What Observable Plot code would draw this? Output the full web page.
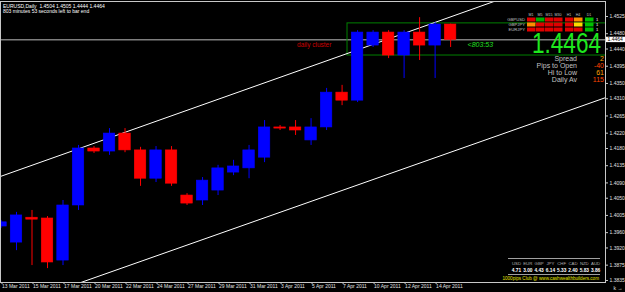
<!DOCTYPE html>
<html><head><meta charset="utf-8">
<script src="https://cdn.jsdelivr.net/npm/d3@7"></script>
<script src="https://cdn.jsdelivr.net/npm/@observablehq/plot@0.6"></script>
<style>
html,body{margin:0;padding:0;background:#000;}
#wrap{position:relative;width:625px;height:292px;overflow:hidden;background:#000;}
#wrap svg{display:block;}
</style></head><body><div id="wrap"></div>
<script>
// ---- data (EURUSD daily) ----
const candleDates = ["13 Mar 2011","14 Mar 2011","15 Mar 2011","16 Mar 2011","17 Mar 2011","18 Mar 2011",
  "20 Mar 2011","21 Mar 2011","22 Mar 2011","23 Mar 2011","24 Mar 2011","25 Mar 2011",
  "27 Mar 2011","28 Mar 2011","29 Mar 2011","30 Mar 2011","31 Mar 2011","1 Apr 2011",
  "3 Apr 2011","4 Apr 2011","5 Apr 2011","6 Apr 2011","7 Apr 2011","8 Apr 2011",
  "10 Apr 2011","11 Apr 2011","12 Apr 2011","13 Apr 2011","14 Apr 2011","15 Apr 2011"];
const opens  = [1.3976,1.3934,1.3999,1.3997,1.3887,1.4031,1.4180,1.4172,1.4219,1.4175,1.4101,1.4175,
  1.4057,1.4044,1.4070,1.4117,1.4128,1.4156,1.4235,1.4235,1.4201,1.4235,1.4326,1.4305,
  1.4449,1.4483,1.4423,1.4483,1.4449,1.4504];
const highs  = [1.3992,1.4013,1.4018,1.4002,1.4044,1.4188,1.4185,1.4232,1.4232,1.4183,1.4185,1.4185,
  1.4062,1.4104,1.4136,1.4149,1.4188,1.4253,1.4240,1.4253,1.4258,1.4337,1.4345,1.4488,
  1.4488,1.4488,1.4488,1.4522,1.4509,1.4505];
const lows   = [1.3971,1.3913,1.3874,1.3866,1.3874,1.4018,1.4167,1.4162,1.4169,1.4081,1.4091,1.4081,
  1.4031,1.4031,1.4057,1.4109,1.4101,1.4143,1.4227,1.4214,1.4188,1.4227,1.4292,1.4300,
  1.4444,1.4415,1.4363,1.4410,1.4363,1.4444];
const closes = [1.3987,1.4005,1.3994,1.3882,1.4031,1.4180,1.4172,1.4219,1.4175,1.4101,1.4175,1.4088,
  1.4036,1.4096,1.4128,1.4133,1.4175,1.4235,1.4232,1.4227,1.4235,1.4326,1.4305,1.4483,
  1.4483,1.4423,1.4483,1.4449,1.4504,1.4464];

const xTickLabels = ["13 Mar 2011","15 Mar 2011","17 Mar 2011","20 Mar 2011","22 Mar 2011","24 Mar 2011",
  "27 Mar 2011","29 Mar 2011","31 Mar 2011","3 Apr 2011","5 Apr 2011","7 Apr 2011","10 Apr 2011",
  "12 Apr 2011","14 Apr 2011"];
const yTickValues = [1.4525,1.4480,1.4440,1.4395,1.4350,1.4310,1.4265,1.4220,1.4180,1.4135,1.4090,
  1.4050,1.4005,1.3960,1.3920,1.3875,1.3835];

// trend channel anchor points (bar position, price)
const upperChannelK = [-1, 37];
const upperChannelP = [1.4093, 1.4639];
const lowerChannelK = [3, 39];
const lowerChannelP = [1.3799, 1.4313];

// daily cluster zone
const clusterStartK = [22.35];
const clusterTop = [1.4507];
const clusterBottom = [1.4423];

const bidPrice = 1.4464;
const titleText = "EURUSD,Daily  1.4504 1.4505 1.4444 1.4464";
const timerText = "803 minutes 53 seconds left to bar end";
const countdown = "<803:53";

const statLabels = ["Spread","Pips to Open","Hi to Low","Daily Av"];
const statValues = ["2","-40","61","115"];
const statColors = ["#ffa500","#ff4500","#ffa500","#ff4500"];

const tfLabels = ["M1","M5","M15","M30","H1","H4","D1"];
const pairLabels = ["GBPUSD","GBPJPY","EURJPY"];
const pairCells = [
  ["#e00000","#00b000","#e00000","#e00000","#e00000","#ff8c00","#00c000"],
  ["#ff8c00","#e00000","#e00000","#e00000","#e00000","#ffd700","#00c000"],
  ["#e00000","#e00000","#e00000","#e00000","#e00000","#e00000","#00c000"]
];
const pairSignal = ["1","1","1"];

const currencies = ["USD","EUR","GBP","JPY","CHF","CAD","NZD","AUD"];
const strengths = ["4.71","3.00","4.43","6.14","5.33","2.40","5.83","3.86"];
const footer = "1000pips Club @ www.cashwealthbuilders.com";

// ---- build tables ----
const candles = candleDates.map((d, k) => ({
  k, date: d, open: opens[k], high: highs[k], low: lows[k], close: closes[k],
  color: closes[k] >= opens[k] ? "#0000ff" : "#ff0000"
}));
const upperLine = upperChannelK.map((k, i) => ({k, p: upperChannelP[i]}));
const lowerLine = lowerChannelK.map((k, i) => ({k, p: lowerChannelP[i]}));
const cluster = clusterStartK.map((k, i) => ({k, top: clusterTop[i], bottom: clusterBottom[i]}));
const tickK = xTickLabels.map(d => candleDates.indexOf(d));
const last = candles[candles.length - 1];

const FONT = "Liberation Sans, Arial, sans-serif";

const chart = Plot.plot({
  width: 625, height: 292,
  marginLeft: 0, marginRight: 20, marginTop: 1, marginBottom: 10,
  style: {background: "#000", color: "#fff", fontFamily: FONT, fontSize: "5px", overflow: "visible"},
  x: {domain: [-0.032, 38.99], axis: null},
  y: {domain: [1.38297, 1.45642], axis: null},
  color: {type: "identity"},
  marks: [
    Plot.ruleY([bidPrice], {stroke: "#bdbdbd", strokeWidth: 1}),
    Plot.rect(cluster, {x1: "k", x2: 60, y1: "bottom", y2: "top", fill: "none", stroke: "#008000", strokeWidth: 1, clip: true}),
    Plot.line(upperLine, {x: "k", y: "p", stroke: "#ffffff", strokeWidth: 1, clip: true}),
    Plot.line(lowerLine, {x: "k", y: "p", stroke: "#ffffff", strokeWidth: 1, clip: true}),
    Plot.ruleX(candles, {x: "k", y1: "low", y2: "high", stroke: "color", strokeWidth: 1, clip: true}),
    Plot.rect(candles, {x1: d => d.k - 0.37, x2: d => d.k + 0.37, y1: "open", y2: "close", fill: "color", stroke: "color", strokeWidth: 0.6, clip: true}),
    Plot.text(["daily cluster"], {x: [20.2], y: [1.4452], text: d => d, fill: "#cc0000", fontSize: 6.5, clip: true}),
    Plot.text([last], {x: "k", y: () => 1.4450, dx: 17, text: () => countdown, textAnchor: "start", fill: "#22e022", fontSize: 7, fontStyle: "italic"}),
    Plot.frame({stroke: "#c8c8c8"}),
    Plot.axisY({anchor: "right", ticks: yTickValues, tickFormat: d => d.toFixed(4), tickSize: 2, tickPadding: 2, fontSize: 5, stroke: "#c8c8c8", fill: "#e0e0e0"}),
    Plot.axisX({ticks: tickK, tickFormat: k => candleDates[k], tickSize: 2, tickPadding: 0, textAnchor: "start", dx: 1, fontSize: 5, stroke: "#c8c8c8", fill: "#e0e0e0"})
  ]
});
document.getElementById("wrap").appendChild(chart);

// ---- overlays (text panels) ----
const svg = d3.select(chart);
const yScale = chart.scale("y");
const g = svg.append("g").attr("font-family", FONT).attr("text-anchor", "start");

function txt(x, y, s, size, fill, anchor, extra) {
  const t = g.append("text").attr("x", x).attr("y", y).attr("font-size", size).attr("fill", fill)
    .attr("text-anchor", anchor || "start").text(s);
  if (extra) extra(t);
  return t;
}

// title
txt(3, 7.6, titleText, 5, "#fff", "start", t => t.attr("xml:space", "preserve").style("white-space", "pre"));
txt(3, 12.8, timerText, 5, "#fff", "start");

// bid price box on the axis
const by = yScale.apply(bidPrice);
g.append("rect").attr("x", 606).attr("y", by - 2.6).attr("width", 19).attr("height", 5.4).attr("fill", "#fff");
txt(607.5, by + 1.8, bidPrice.toFixed(4), 5, "#000", "start");

// big price
txt(601, 53, bidPrice.toFixed(4), 29, "#1ee81e", "end", t => t.attr("textLength", 69).attr("lengthAdjust", "spacingAndGlyphs"));

// stats
statLabels.forEach((s, i) => {
  const y = 61 + i * 7;
  txt(577, y, s, 7, "#c0c0c0", "end");
  txt(604, y, statValues[i], 7, statColors[i], "end");
});

// timeframe table
const colX = [527, 536, 545, 554, 565, 574, 585];
tfLabels.forEach((t, j) => txt(colX[j] + 4, 16, t, 3.6, "#c0c0c0", "middle"));
pairLabels.forEach((p, r) => {
  const y = 17.5 + r * 5;
  txt(525, y + 3.8, p, 4.2, "#c0c0c0", "end");
  pairCells[r].forEach((c, j) => {
    g.append("rect").attr("x", colX[j]).attr("y", y).attr("width", 8.5).attr("height", 4).attr("fill", c);
  });
  txt(596, y + 3.8, pairSignal[r], 4.2, "#fff", "start");
});

// currency strength panel
g.append("line").attr("x1", 508).attr("x2", 600).attr("y1", 258.5).attr("y2", 258.5).attr("stroke", "#a0a0a0");
currencies.forEach((c, i) => {
  const x = 516.5 + i * 11.3;
  txt(x, 265, c, 4.3, "#b0b0b0", "middle");
  txt(x, 271.5, strengths[i], 4.8, "#fff", "middle", t => t.attr("font-weight", "bold"));
});
g.append("line").attr("x1", 508).attr("x2", 600).attr("y1", 274.5).attr("y2", 274.5).attr("stroke", "#a0a0a0");
txt(599, 280, footer, 4.6, "#e6e600", "end");
</script></body></html>
